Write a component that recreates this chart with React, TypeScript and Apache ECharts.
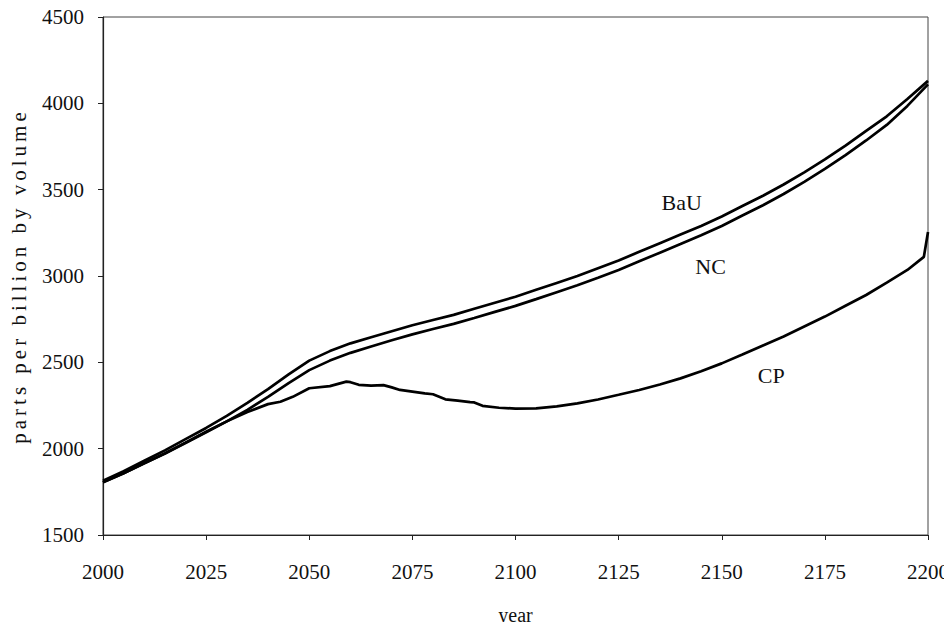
import React, { useEffect, useRef } from "react";
import * as echarts from "echarts";

const years = [
  2000, 2005, 2010, 2015, 2020, 2025, 2030, 2035, 2040, 2045, 2050, 2055, 2060, 2065, 2070, 2075, 2080,
  2085, 2090, 2095, 2100, 2105, 2110, 2115, 2120, 2125, 2130, 2135, 2140, 2145, 2150, 2155, 2160, 2165,
  2170, 2175, 2180, 2185, 2190, 2195, 2200,
];
const bauValues = [
  1815, 1870, 1930, 1990, 2055, 2120, 2190, 2265, 2345, 2430, 2510, 2565, 2610, 2645, 2680, 2715, 2745,
  2775, 2810, 2845, 2880, 2920, 2960, 3000, 3045, 3090, 3140, 3190, 3240, 3290, 3345, 3405, 3465, 3530,
  3600, 3675, 3755, 3840, 3925, 4025, 4130,
];
const ncValues = [
  1805, 1858, 1915, 1972, 2035, 2098, 2158, 2225, 2300, 2380, 2455, 2510, 2555, 2592, 2628, 2662, 2693,
  2723, 2757, 2792, 2827, 2866, 2906, 2946, 2990, 3035, 3085, 3135, 3185, 3236, 3290, 3350, 3410, 3475,
  3545, 3620, 3700, 3785, 3875, 3985, 4110,
];
const cpYears = [
  2000, 2005, 2010, 2015, 2020, 2025, 2030, 2035, 2040, 2043, 2046, 2050, 2055, 2059, 2060, 2062, 2065,
  2068, 2070, 2072, 2075, 2078, 2080, 2083, 2086, 2089, 2090, 2092, 2096, 2100, 2105, 2110, 2115, 2120,
  2125, 2130, 2135, 2140, 2145, 2150, 2155, 2160, 2165, 2170, 2175, 2180, 2185, 2190, 2195, 2199, 2200,
];
const cpValues = [
  1805, 1858, 1915, 1972, 2033, 2095, 2158, 2212, 2258, 2272, 2300, 2350, 2362, 2388, 2385, 2370, 2365,
  2368, 2355, 2340, 2330, 2320, 2315, 2286, 2278, 2270, 2268, 2248, 2237, 2232, 2233, 2245, 2262, 2285,
  2312, 2340, 2372, 2407, 2448, 2494, 2545, 2598, 2650, 2708, 2765, 2828, 2890, 2962, 3035, 3111, 3255,
];

const seriesNames = ["BaU", "NC", "CP"];
const labelYears = [2140.3, 2147.3, 2162];
const labelValues = [3426, 3054, 2423];

const xMin = 2000;
const xMax = 2200;
const xInterval = 25;
const yMin = 1500;
const yMax = 4500;
const yInterval = 500;

const FONT = "Liberation Serif";
const Y_NAME = "parts per billion by volume";

export default function App() {
  const ref = useRef<HTMLDivElement>(null);

  useEffect(() => {
    if (!ref.current) return;
    const el = ref.current;
    const chart = echarts.init(el, null, { renderer: "svg" });
    const seriesData = [
      years.map((y, i) => [y, bauValues[i]]),
      years.map((y, i) => [y, ncValues[i]]),
      cpYears.map((y, i) => [y, cpValues[i]]),
    ];
    const spaceName = () => {
      el.querySelectorAll("text").forEach((t) => {
        if ((t.textContent || "").trim() === Y_NAME) {
          (t as SVGTextElement).style.letterSpacing = "4px";
        }
      });
    };
    chart.on("finished", spaceName);
    chart.setOption({
      animation: false,
      backgroundColor: "#ffffff",
      textStyle: { fontFamily: FONT },
      grid: {
        left: 102,
        right: 22,
        top: 17,
        bottom: 88,
        show: true,
        borderColor: "#444",
        borderWidth: 1,
        backgroundColor: "transparent",
      },
      xAxis: {
        type: "value",
        min: xMin,
        max: xMax,
        interval: xInterval,
        name: "year",
        nameLocation: "middle",
        nameGap: 70,
        nameTextStyle: { fontFamily: FONT, fontSize: 20, color: "#111" },
        axisLine: { show: true, lineStyle: { color: "#222", width: 1.2 } },
        axisTick: { show: true, inside: false, length: 5, lineStyle: { color: "#222" } },
        axisLabel: {
          fontFamily: FONT,
          fontSize: 21,
          color: "#111",
          margin: 26,
          formatter: (v: number) => String(v),
        },
        splitLine: { show: false },
      },
      yAxis: {
        type: "value",
        min: yMin,
        max: yMax,
        interval: yInterval,
        name: Y_NAME,
        nameLocation: "middle",
        nameGap: 74,
        nameRotate: 90,
        nameTextStyle: { fontFamily: FONT, fontSize: 21, color: "#111" },
        axisLine: { show: true, lineStyle: { color: "#222", width: 1.2 } },
        axisTick: { show: true, inside: false, length: 5, lineStyle: { color: "#222" } },
        axisLabel: {
          fontFamily: FONT,
          fontSize: 21,
          color: "#111",
          margin: 19,
          formatter: (v: number) => String(v),
        },
        splitLine: { show: false },
      },
      series: seriesNames.map((name, i) => ({
        name,
        type: "line",
        data: seriesData[i],
        showSymbol: false,
        symbol: "none",
        smooth: false,
        lineStyle: { color: "#000", width: 2.7 },
        z: 3,
        markPoint: {
          symbol: "circle",
          symbolSize: 1,
          itemStyle: { color: "rgba(0,0,0,0)" },
          label: {
            show: true,
            position: "inside",
            formatter: "{b}",
            fontFamily: FONT,
            fontSize: 22,
            color: "#111",
          },
          data: [{ name, coord: [labelYears[i], labelValues[i]] }],
        },
      })),
    });
    spaceName();
    return () => chart.dispose();
  }, []);

  return <div ref={ref} style={{ width: 952, height: 630, margin: -8 }} />;
}
